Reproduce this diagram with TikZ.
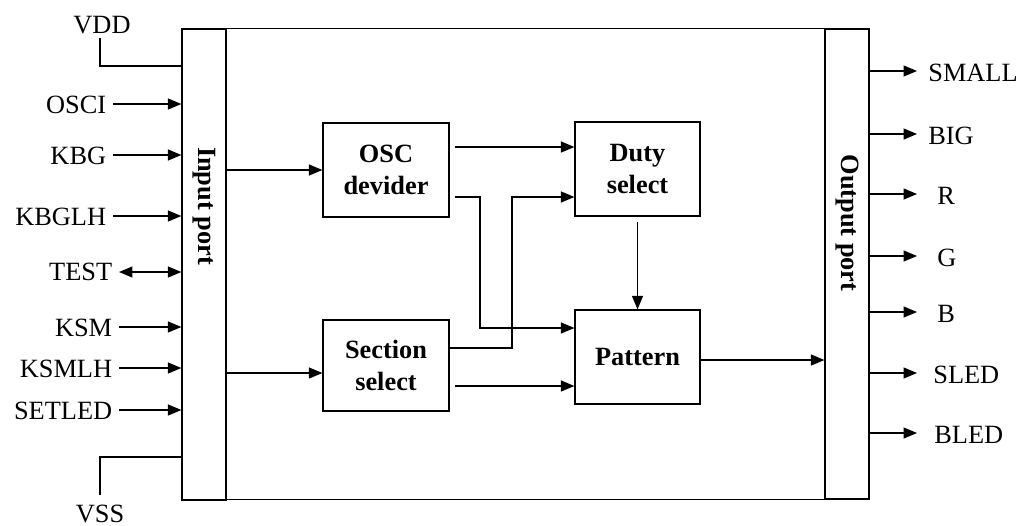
\documentclass[tikz,border=0pt]{standalone}
\usepackage{amsmath,amssymb}
\usepackage{fontspec}
\setmainfont{Liberation Serif}
\usetikzlibrary{arrows.meta}

\newcommand{\figfont}{\fontsize{15}{18}\selectfont}
\tikzset{
  tip/.tip={Triangle[length=0.27cm,width=0.22cm]},
  sig/.style={line width=0.7pt,-tip},
  wire/.style={line width=0.7pt},
  blk/.style={draw,line width=0.7pt,inner sep=0pt,align=center,font=\figfont\bfseries},
  port/.style={draw,line width=0.7pt,inner sep=0pt,minimum width=0.88cm}
}

\begin{document}
\begin{tikzpicture}[x=0.02cm,y=-0.02cm,font=\figfont]
			\useasboundingbox (0,0) rectangle (1021,525);
			\node[port,minimum height=9.42cm] (inport) at (204,264.5) {};
			\node[port,minimum height=9.4cm] (outport) at (847,264) {};
			\draw[wire] (inport.north west) rectangle (outport.south east);
			\node[rotate=-90,font=\figfont\bfseries] (inlbl) at (204,206) {Input port};
			\node[rotate=-90,font=\figfont\bfseries] (outlbl) at (847,223) {Output port};
			\node[blk,minimum width=2.52cm,minimum height=1.88cm] (osc) at (386,170) {OSC\\devider};
			\node[blk,minimum width=2.52cm,minimum height=1.82cm] (sec) at (386,365.5) {Section\\select};
			\node[blk,minimum width=2.5cm,minimum height=1.88cm] (duty) at (637.5,169) {Duty\\select};
			\node[blk,minimum width=2.5cm,minimum height=1.88cm] (pat) at (637.5,357) {Pattern};
			\coordinate (vddpin) at (100,38);
			\node[anchor=base] (vdd) at (102,33) {VDD};
			\draw[wire] (vddpin) |- (inport.west |- 0,66);
			\coordinate (vsspin) at (100,495);
			\node[anchor=base] (vss) at (100,522) {VSS};
			\draw[wire] (vsspin) |- (inport.west |- 0,457);
			\foreach \name/\y/\x in {OSCI/104/113,KBG/155/113,KBGLH/216/113,KSM/327/119,KSMLH/368/119,SETLED/410/119}{
				\coordinate (pin-\name) at (\x,\y);
				\node[anchor=east,inner sep=2pt] at (\x-3,\y+1) {\name};
				\draw[sig] (pin-\name) -- (inport.west |- pin-\name);
			}
			\coordinate (pin-TEST) at (119,272);
			\node[anchor=east,inner sep=2pt] at (116,272) {TEST};
			\draw[wire,tip-tip] (pin-TEST) -- (inport.west |- pin-TEST);
			\foreach \name/\y/\lx in {SMALL/71/928,BIG/134/928,R/194/937,G/256/937,B/312/937,SLED/373/933,BLED/433/934}{
				\coordinate (tip-\name) at (917,\y);
				\node[anchor=west,inner sep=0pt] at (\lx,\y+2) {\name};
				\draw[sig] (outport.east |- tip-\name) -- (tip-\name);
			}
			\draw[sig] (inport.east |- osc.west) -- (osc.west);
			\draw[sig] (inport.east |- 0,373) -- (sec.west |- 0,373);
			\draw[sig] ([xshift=3pt]osc.east |- 0,147) -- (duty.west |- 0,147);
			\draw[sig] ([xshift=3pt]osc.east |- 0,197) -- (480,197) -- (480,328) -- (pat.west |- 0,328);
			\draw[sig] (sec.east |- 0,348) -- (512,348) -- (512,197) -- (duty.west |- 0,197);
			\draw[sig] ([xshift=3pt]sec.east |- 0,386) -- (pat.west |- 0,386);
			\draw[sig] ([yshift=-3pt]duty.south) -- (pat.north);
			\draw[sig] (pat.east |- 0,360) -- (outport.west |- 0,360);
\end{tikzpicture}
\end{document}
